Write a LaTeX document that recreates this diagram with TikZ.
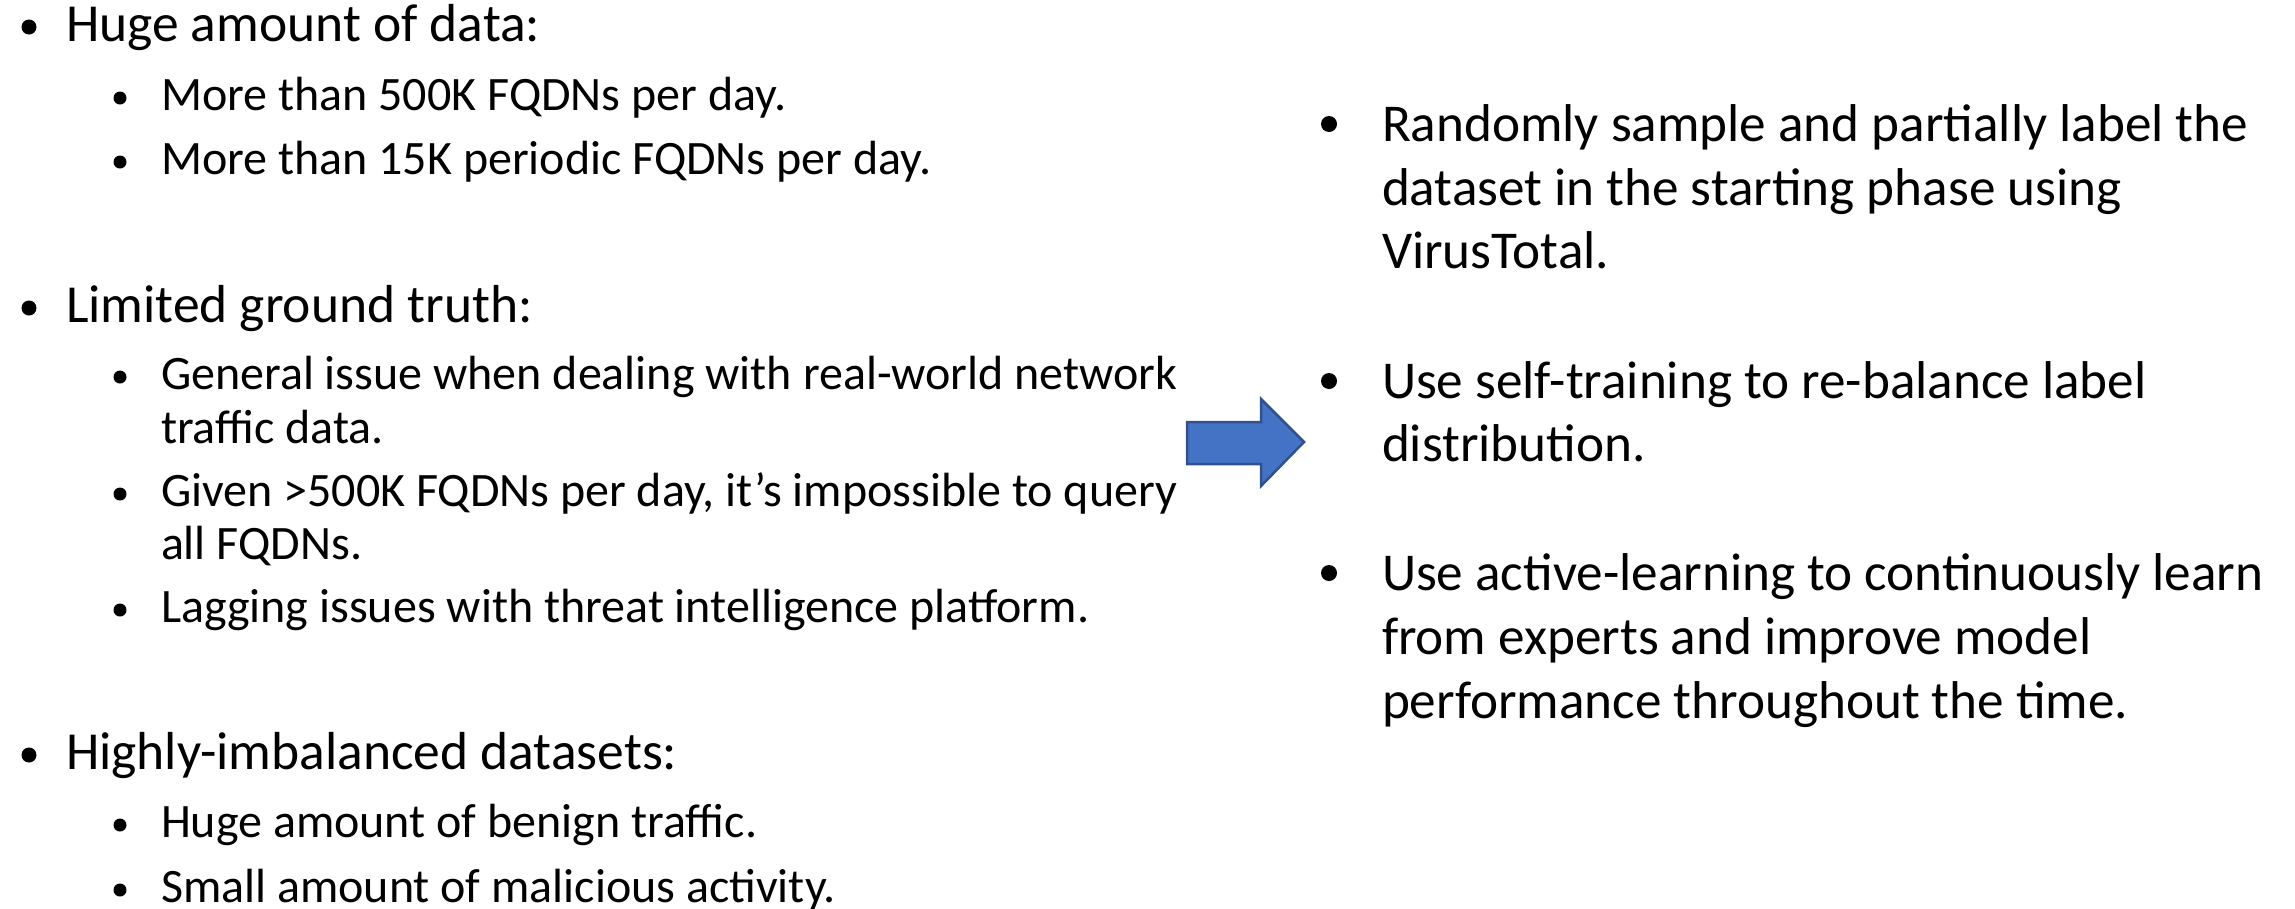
\documentclass[tikz,border=0pt]{standalone}
\usepackage{fontspec}
\setmainfont{Carlito}
\definecolor{arrowfill}{HTML}{4472C4}
\definecolor{arrowline}{HTML}{2F528F}
\begin{document}
\begin{tikzpicture}[x=1pt,y=-1pt,
  every node/.style={inner sep=0pt,outer sep=0pt,anchor=base west},
  lvlone/.style={font=\fontsize{53.5}{64}\selectfont},
  lvltwo/.style={font=\fontsize{48}{58}\selectfont},
  rtext/.style={font=\fontsize{53.2}{64}\selectfont},
  dot/.style={circle,fill=black,anchor=center,minimum size=#1},
  dot/.default=13]
\path[use as bounding box] (0,0) rectangle (2295,908);

% left column: first heading and its items
\node[dot=15] (b1) at (29,27) {};
\node[lvlone] (h1) at (66,41) {Huge amount of data:};
\node[dot] (b11) at (120,98) {};
\node[lvltwo] (t11) at (161,110) {More than 500K FQDNs per day.};
\node[dot] (b12) at (120,162) {};
\node[lvltwo] (t12) at (161,174) {More than 15K periodic FQDNs per day.};

% second heading
\node[dot=15] (b2) at (29,308) {};
\node[lvlone] (h2) at (66,322) {Limited ground truth:};
\node[dot] (b21) at (120,377) {};
\node[lvltwo] (t21a) at (161,389) {General issue when dealing with real-world network};
\node[lvltwo] (t21b) at (161,443) {traffic data.};
\node[dot] (b22) at (120,494) {};
\node[lvltwo] (t22a) at (161,506) {Given >500K FQDNs per day, it’s impossible to query};
\node[lvltwo] (t22b) at (161,559) {all FQDNs.};
\node[dot] (b23) at (120,610) {};
\node[lvltwo] (t23) at (161,622) {Lagging issues with threat intelligence platform.};

% third heading
\node[dot=15] (b3) at (29,755) {};
\node[lvlone] (h3) at (66,769) {Highly-imbalanced datasets:};
\node[dot] (b31) at (120,825) {};
\node[lvltwo] (t31) at (161,837) {Huge amount of benign traffic.};
\node[dot] (b32) at (120,890) {};
\node[lvltwo] (t32) at (161,902) {Small amount of malicious activity.};

% block arrow between the columns
\filldraw[fill=arrowfill,draw=arrowline,line width=2.5pt,line join=miter]
  (1187,422) -- (1261,422) -- (1261,399) -- (1304,442) -- (1261,486)
  -- (1261,464) -- (1187,464) -- cycle;

% right column
\node[dot=16] (r1) at (1329,124) {};
\node[rtext] (r1a) at (1382,141) {Randomly sample and partially label the};
\node[rtext] (r1b) at (1382,205) {dataset in the starting phase using};
\node[rtext] (r1c) at (1382,268) {VirusTotal.};
\node[dot=16] (r2) at (1329,381) {};
\node[rtext] (r2a) at (1382,398) {Use self-training to re-balance label};
\node[rtext] (r2b) at (1382,461) {distribution.};
\node[dot=16] (r3) at (1329,573) {};
\node[rtext] (r3a) at (1382,590) {Use active-learning to continuously learn};
\node[rtext] (r3b) at (1382,654) {from experts and improve model};
\node[rtext] (r3c) at (1382,718) {performance throughout the time.};
\end{tikzpicture}
\end{document}
